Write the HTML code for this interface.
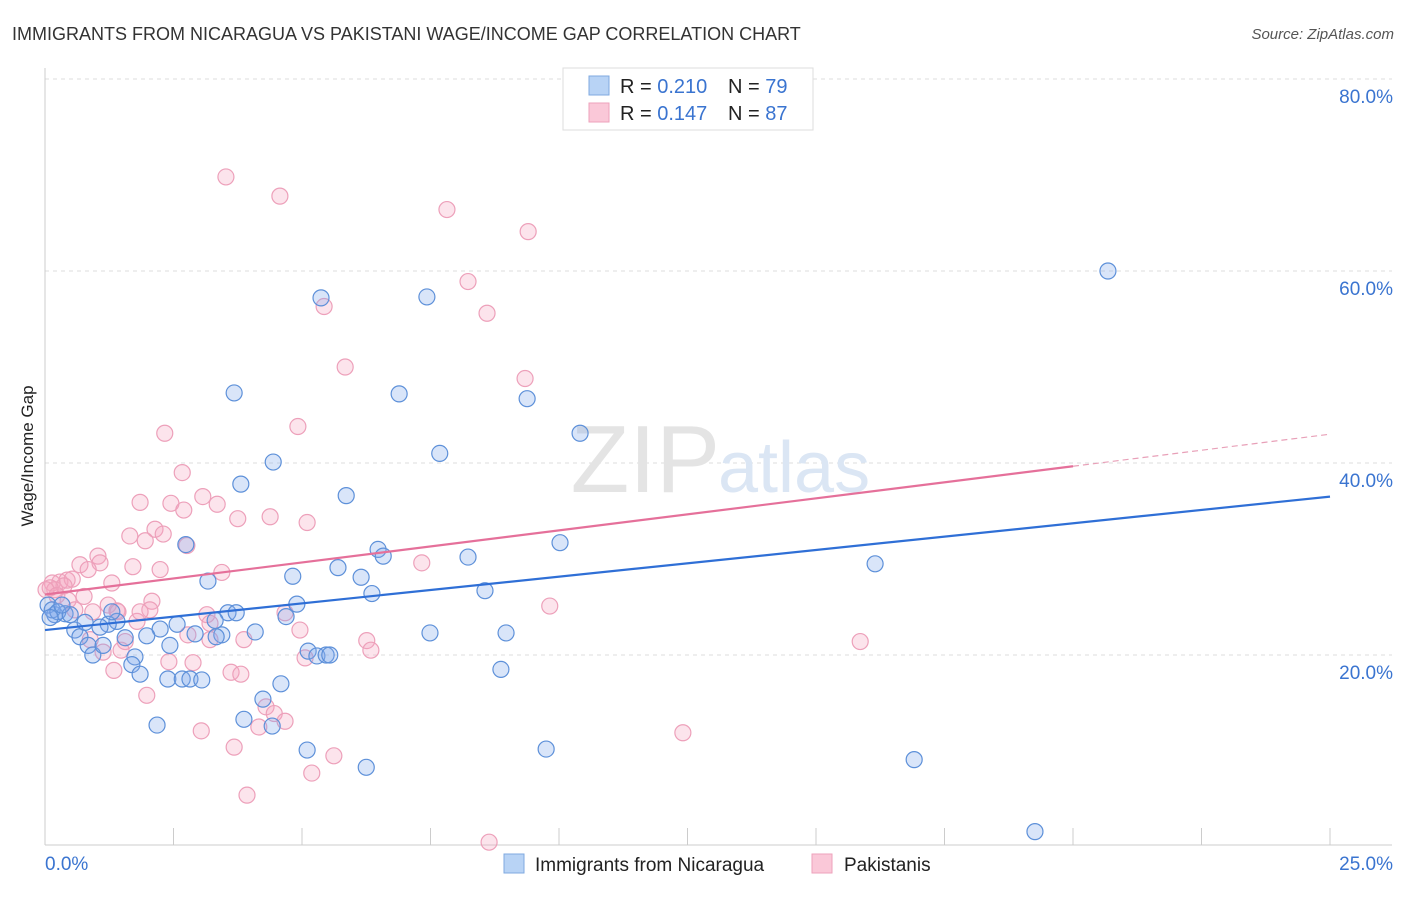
<!DOCTYPE html>
<html><head><meta charset="utf-8"><style>
body{margin:0;background:#fff;font-family:"Liberation Sans",sans-serif;}
svg text{font-family:"Liberation Sans",sans-serif;}
</style></head><body>
<svg id="c" width="1406" height="892" xmlns="http://www.w3.org/2000/svg">
<text x="12" y="40" font-size="18" fill="#333">IMMIGRANTS FROM NICARAGUA VS PAKISTANI WAGE/INCOME GAP CORRELATION CHART</text>
<text x="1394" y="39" font-size="15" fill="#555" font-style="italic" text-anchor="end">Source: ZipAtlas.com</text>
<text x="0" y="0" transform="translate(33,456) rotate(-90)" font-size="17" fill="#222" text-anchor="middle">Wage/Income Gap</text>
<g id="grid"></g>
<g id="ticks"></g>
<text x="720" y="492" font-size="96" fill="#e4e4e4" text-anchor="end" font-family="Liberation Serif">ZIP</text>
<text x="718" y="492" font-size="72" fill="#dbe6f4">atlas</text>
<g id="pts"></g>
<g id="trends"></g>
<g>
<rect x="563" y="68" width="250" height="62" fill="#fff" stroke="#ddd"/>
<rect x="589" y="76" width="20" height="19" fill="#b8d3f5" stroke="#7fa9e0"/>
<rect x="589" y="103" width="20" height="19" fill="#fac8d8" stroke="#eea2bb"/>
<text x="620" y="93" font-size="20" fill="#222">R = <tspan fill="#3a74d0">0.210</tspan></text>
<text x="728" y="93" font-size="20" fill="#222">N = <tspan fill="#3a74d0">79</tspan></text>
<text x="620" y="120" font-size="20" fill="#222">R = <tspan fill="#3a74d0">0.147</tspan></text>
<text x="728" y="120" font-size="20" fill="#222">N = <tspan fill="#3a74d0">87</tspan></text>
</g>
<g>
<rect x="504" y="854" width="20" height="19" fill="#b8d3f5" stroke="#7fa9e0"/>
<text x="535" y="871" font-size="19" fill="#222">Immigrants from Nicaragua</text>
<rect x="812" y="854" width="20" height="19" fill="#fac8d8" stroke="#eea2bb"/>
<text x="844" y="871" font-size="19" fill="#222">Pakistanis</text>
</g>
</svg>
<script>
const yTicks=[20,40,60,80];
const yTickLabels=["20.0%","40.0%","60.0%","80.0%"];
const xEndLabels=["0.0%","25.0%"];
const blueX=[20.68,5.37,7.43,3.68,6.89,9.38,10.41,7.68,4.44,3.81,5.86,2.74,6.48,6.58,8.23,10.02,16.15,4.82,5.70,6.15,3.17,6.36,8.56,4.90,3.56,3.72,4.69,4.09,3.44,3.33,2.92,2.57,2.24,1.98,7.49,8.97,1.56,1.40,1.23,1.07,1.30,0.58,0.68,0.84,0.93,1.13,1.75,1.69,1.85,2.39,2.67,2.82,3.05,4.59,5.12,5.29,5.47,5.54,8.87,4.24,3.87,4.42,2.18,5.10,6.25,9.75,16.91,19.26,0.19,0.39,0.06,0.14,0.25,0.49,0.33,0.10,0.78,2.43,3.31];
const blueY=[60.0,57.2,57.3,47.3,47.2,46.7,43.1,41.0,40.1,37.8,36.6,31.5,31.0,30.3,30.2,31.7,29.5,28.2,29.1,28.1,27.7,26.4,26.7,25.3,24.4,24.4,24.0,22.4,22.1,21.9,22.2,23.2,22.7,22.0,22.3,22.3,21.8,23.5,23.2,22.9,24.5,22.6,21.9,21.0,20.0,21.0,19.8,19.0,18.0,17.5,17.5,17.5,17.4,17.0,20.4,19.9,20.0,20.0,18.5,15.4,13.3,12.6,12.7,10.1,8.3,10.2,9.1,1.6,24.2,24.3,25.2,24.7,24.5,24.2,25.2,23.9,23.4,21.0,23.6];
const pinkX=[3.52,4.57,7.82,9.40,8.23,8.60,5.43,5.84,9.34,2.33,4.92,2.67,1.85,3.07,3.35,2.45,2.70,3.75,4.38,5.10,1.65,2.14,2.30,1.95,2.76,1.03,1.07,0.68,0.84,1.71,2.24,3.44,7.33,1.30,0.29,0.43,0.53,0.14,0.19,0.37,0.76,2.08,1.23,0.93,1.40,2.04,3.15,3.21,4.67,9.82,1.79,1.56,1.48,1.13,2.78,2.41,2.88,3.87,6.26,6.34,5.06,1.34,3.62,3.81,1.98,4.30,4.46,4.67,4.16,3.04,3.68,5.62,5.19,3.93,8.64,12.41,15.86,0.10,0.02,0.23,0.45,0.58,1.42,1.85,0.88,4.96,3.21];
const pinkY=[69.8,67.8,66.4,64.1,58.9,55.6,56.3,50.0,48.8,43.1,43.8,39.0,35.9,36.5,35.7,35.8,35.1,34.2,34.4,33.8,32.4,33.1,32.6,31.9,31.4,30.3,29.6,29.4,28.9,29.2,28.9,28.6,29.6,27.5,27.6,27.8,27.9,27.5,26.8,27.2,26.1,25.6,25.2,24.5,24.6,24.7,24.2,23.3,24.4,25.1,23.5,21.4,20.5,20.3,22.1,19.3,19.2,21.6,21.5,20.5,19.7,18.4,18.2,18.0,15.8,14.6,13.9,13.1,12.5,12.1,10.4,9.5,7.7,5.4,0.5,11.9,21.4,27.0,26.8,26.2,25.7,24.7,24.5,24.5,21.6,22.6,21.6];
const blueTrend=[22.6,36.5];
const pinkTrend=[26.3,43.0];
const pinkSolidEnd=20;
const NS="http://www.w3.org/2000/svg";
const X=v=>45+v*51.4, Y=v=>847-v*9.6;
function mk(t,a,p){const e=document.createElementNS(NS,t);for(const k in a)e.setAttribute(k,a[k]);p.appendChild(e);return e;}
const grid=document.getElementById('grid'),ticks=document.getElementById('ticks');
yTicks.forEach((t,i)=>{
 const l=mk('line',{x1:45,x2:1392,y1:Y(t),y2:Y(t),stroke:'#ddd','stroke-dasharray':'4,4'},grid);
 
 
 const tx=mk('text',{x:1393,y:Y(t)+24,'font-size':19,fill:'#3a74d0','text-anchor':'end'},ticks);
 tx.textContent=yTickLabels[i];
 
 
});
const ax=mk('line',{x1:45,x2:45,y1:68,y2:845,stroke:'#ccc'},ticks);


const bx=mk('line',{x1:45,x2:1392,y1:845,y2:845,stroke:'#ccc'},ticks);


for(let i=0;i<=10;i++){
 const t=mk('line',{x1:X(i*2.5),x2:X(i*2.5),y1:828,y2:845,stroke:'#ccc'},ticks);
 
 
}
[[0,45,'start'],[1,1393,'end']].forEach(([i,x,a])=>{
 const t=mk('text',{x:x,y:870,'font-size':19,fill:'#3a74d0','text-anchor':a},ticks);
 t.textContent=xEndLabels[i];
 
 
});
const pts=document.getElementById('pts');
pinkX.forEach((x,i)=>{
 const c=mk('circle',{cx:X(x),cy:Y(pinkY[i]),r:8,fill:'rgba(244,165,192,0.3)',stroke:'#eda0ba','stroke-width':1.2},pts);
 
 
});
blueX.forEach((x,i)=>{
 const c=mk('circle',{cx:X(x),cy:Y(blueY[i]),r:8,fill:'rgba(130,170,235,0.3)',stroke:'#5d90d9','stroke-width':1.2},pts);
 
 
});
const tr=document.getElementById('trends');
const b=mk('line',{x1:X(0),y1:Y(blueTrend[0]),x2:X(25),y2:Y(blueTrend[1]),stroke:'#2f6fd6','stroke-width':2.2},tr);


const pm=pinkTrend[0]+(pinkTrend[1]-pinkTrend[0])*pinkSolidEnd/25;
const p1=mk('line',{x1:X(0),y1:Y(pinkTrend[0]),x2:X(pinkSolidEnd),y2:Y(pm),stroke:'#e5709a','stroke-width':2.2},tr);


const p2=mk('line',{x1:X(pinkSolidEnd),y1:Y(pm),x2:X(25),y2:Y(pinkTrend[1]),stroke:'#e8a0b8','stroke-width':1.2,'stroke-dasharray':'6,4'},tr);


</script>
</body></html>
